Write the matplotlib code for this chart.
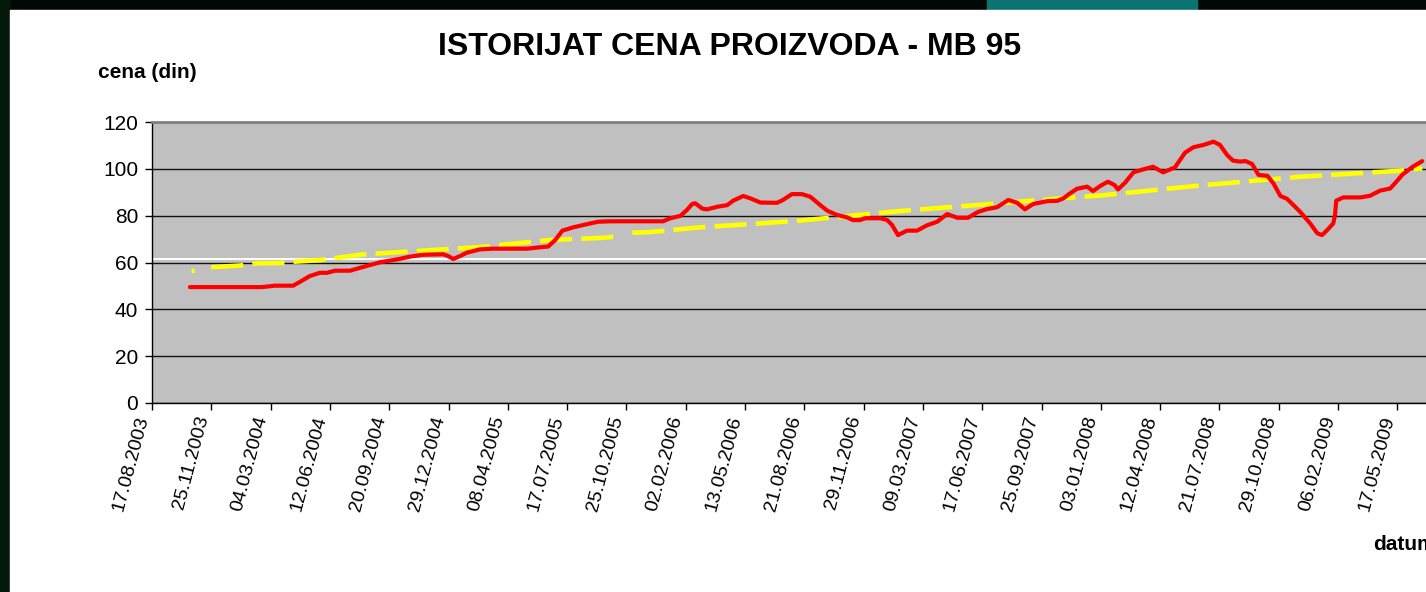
import matplotlib
matplotlib.use("Agg")
import matplotlib.pyplot as plt
import pandas as pd
from matplotlib.patches import Rectangle

plt.rcParams['font.family'] = ['Liberation Sans', 'DejaVu Sans']

# price of MB 95 (days counted from 17.08.2003)
price_days = [64, 186, 207, 238, 250, 266, 283, 295, 309, 334, 363, 385, 413, 435,
              457, 491, 499, 508, 520, 531, 553, 575, 633, 654, 668, 680, 692, 710,
              734, 752, 773, 862, 874, 891, 902, 911, 916, 928, 936, 953, 970, 980,
              997, 1009, 1026, 1054, 1064, 1079, 1096, 1110, 1127, 1139, 1155, 1172,
              1182, 1194, 1203, 1228, 1240, 1248, 1258, 1273, 1290, 1307, 1324, 1341,
              1358, 1376, 1393, 1408, 1425, 1444, 1459, 1472, 1486, 1510, 1526, 1537,
              1548, 1560, 1577, 1587, 1599, 1612, 1623, 1629, 1641, 1655, 1672, 1688,
              1705, 1725, 1742, 1756, 1773, 1790, 1801, 1813, 1823, 1835, 1844, 1855,
              1866, 1881, 1891, 1903, 1914, 1936, 1953, 1965, 1973, 1982, 1992, 1995,
              1997, 2009, 2038, 2054, 2071, 2088, 2097, 2109, 2126, 2142]
price = [49.5, 49.5, 50.1, 50.1, 51.8, 54.2, 55.6, 55.6, 56.5, 56.5, 58.6, 60.1, 61.3, 62.5,
         63.3, 63.5, 62.8, 61.5, 62.8, 64.2, 65.6, 65.9, 65.9, 66.5, 66.8, 69.6, 73.6, 75.0,
         76.4, 77.4, 77.6, 77.6, 78.9, 79.9, 82.4, 85.0, 85.3, 83.0, 82.7, 83.8, 84.5, 86.4,
         88.4, 87.4, 85.6, 85.5, 86.7, 89.2, 89.2, 88.1, 84.5, 82.1, 80.3, 79.3,
         78.1, 78.1, 78.9, 78.9, 78.1, 76.0, 71.7, 73.6, 73.6, 75.9, 77.4, 80.7,
         79.1, 79.1, 81.6, 82.8, 83.6, 86.7, 85.5, 82.7, 85.0, 86.2, 86.3, 87.4,
         89.5, 91.5, 92.4, 90.5, 92.7, 94.5, 93.1, 91.2, 94.1, 98.5, 99.8, 100.9,
         98.5, 100.6, 106.9, 109.2, 110.2, 111.6, 110.2, 105.9, 103.5, 103.1, 103.3, 102.1,
         97.4, 97.0, 93.8, 88.4, 87.2, 81.7, 76.7, 72.5, 71.7, 73.9, 76.7, 80.3,
         86.4, 87.8, 87.8, 88.5, 90.7, 91.6, 94.1, 97.6, 100.9, 103.3]

# trend line (None = gap in the line)
trend_days = [67, 72, 86, 100, 148, 174, 221, 238, 283, 354, 440, 553, 671, 756, 781,
              795, 810, 840, 924, 1026, 1093, 1262, 1430, 1532, 1599, 1768, 1936, 2105, 2142]
trend = [56.3, 56.5, None, 58.0, 58.7, 59.6, 59.8, 60.3, 61.0, 63.4, 64.8, 66.6, 69.6, 70.5, 71.0,
         None, 72.7, 73.0, 75.0, 76.7, 77.9, 82.0, 85.3, 87.4, 88.6, 92.9, 96.6, 99.2, 100.2]

tick_labels = ['17.08.2003', '25.11.2003', '04.03.2004', '12.06.2004', '20.09.2004',
               '29.12.2004', '08.04.2005', '17.07.2005', '25.10.2005', '02.02.2006',
               '13.05.2006', '21.08.2006', '29.11.2006', '09.03.2007', '17.06.2007',
               '25.09.2007', '03.01.2008', '12.04.2008', '21.07.2008', '29.10.2008',
               '06.02.2009', '17.05.2009']

start = pd.Timestamp('2003-08-17')
price_dates = [start + pd.Timedelta(days=d) for d in price_days]
trend_dates = [start + pd.Timedelta(days=d) for d in trend_days]
trend_vals = [v if v is not None else float('nan') for v in trend]

W, H = 1426, 592
fig = plt.figure(figsize=(W / 100, H / 100), dpi=100, facecolor='#020805')
# slide background bits
fig.patches.append(Rectangle((0, 0), 10 / W, 1, transform=fig.transFigure,
                             color='#04180a', zorder=-3))
fig.patches.append(Rectangle((987 / W, 1 - 10 / H), 210 / W, 10 / H, transform=fig.transFigure,
                             color='#0b7471', zorder=-2))
fig.patches.append(Rectangle((10 / W, 0), 1, 1 - 10 / H, transform=fig.transFigure,
                             color='white', zorder=-1))

ax = fig.add_axes([152 / W, 189 / H, 1288 / W, 281 / H])
ax.set_facecolor('#C0C0C0')

ax.set_ylim(0, 120)
ax.set_yticks(range(0, 121, 20))
ax.set_xlim(start, start + pd.Timedelta(days=2172))
ax.set_xticks(pd.to_datetime(tick_labels, format='%d.%m.%Y'))
ax.set_xticklabels(tick_labels, rotation=75, ha='right', fontsize=14)
ax.tick_params(axis='y', labelsize=15, length=5, width=1, pad=5, color='black')
ax.tick_params(axis='x', length=5, width=1, pad=3, color='black')

ax.set_axisbelow(True)
ax.yaxis.grid(True, color='#111111', lw=1)
ax.axhline(61.5, color='white', lw=1.4, zorder=1)

for s in ['top', 'right']:
    ax.spines[s].set_color('#808080')
    ax.spines[s].set_linewidth(2)
for s in ['left', 'bottom']:
    ax.spines[s].set_color('black')
    ax.spines[s].set_linewidth(1)

ax.plot(trend_dates, trend_vals, color='#FFFF00', lw=3.3, dashes=(7, 2),
        dash_capstyle='butt', zorder=2)
ax.plot(price_dates, price, color='#FF0000', lw=3, solid_joinstyle='round',
        solid_capstyle='round', zorder=3)

fig.text(729.5 / W, 1 - 47 / H, 'ISTORIJAT CENA PROIZVODA - MB 95', ha='center', va='center',
         fontsize=23, fontweight='bold')
fig.text(98 / W, 1 - 73 / H, 'cena (din)', ha='left', va='center', fontsize=15, fontweight='bold')
fig.text(1373 / W, 1 - 545 / H, 'datum', ha='left', va='center', fontsize=15, fontweight='bold')

fig.savefig('out.png', dpi=100, facecolor=fig.get_facecolor())
